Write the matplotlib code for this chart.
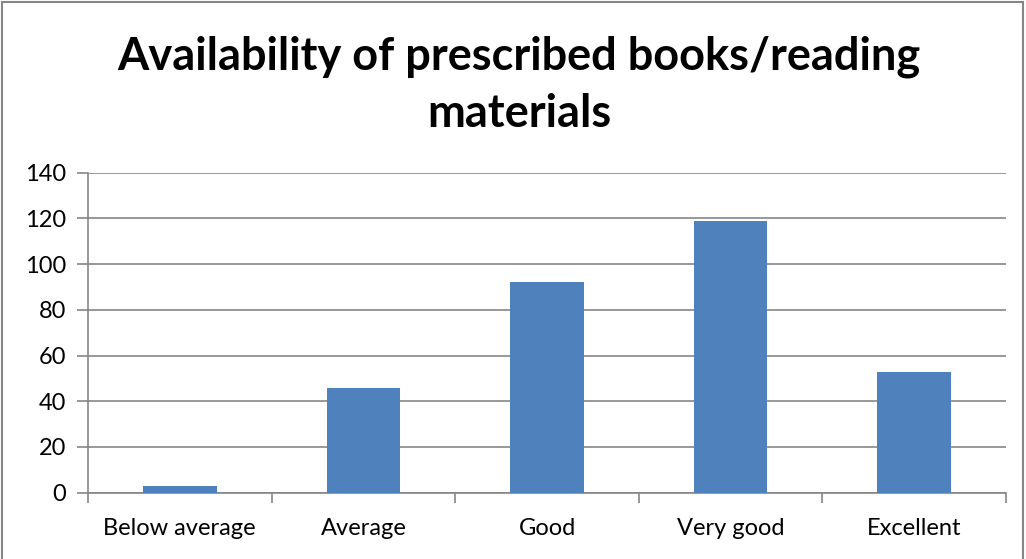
import matplotlib
matplotlib.use("Agg")
import matplotlib.pyplot as plt
from matplotlib.patches import Rectangle
import numpy as np

categories = ["Below average", "Average", "Good", "Very good", "Excellent"]
values = [3, 46, 92, 119, 53]
yticks = [0, 20, 40, 60, 80, 100, 120, 140]
title = "Availability of prescribed books/reading\nmaterials"

plt.rcParams['font.family'] = ['Lato', 'DejaVu Sans']

fig = plt.figure(figsize=(10.26, 5.59), dpi=100)
ax = fig.add_axes([88/1026, (559-492.7)/559, (1006-88)/1026, (492.7-172.7)/559])

x = np.arange(len(categories))
ax.bar(x, values, width=0.4, color="#4F81BD", zorder=3)
ax.set_xlim(-0.5, len(categories) - 0.5)
ax.set_ylim(0, 140)
ax.set_yticks(yticks)
ax.set_yticklabels([str(v) for v in yticks], fontsize=17)
ax.set_xticks(x)
ax.set_xticklabels(categories, fontsize=17)
ax.tick_params(axis='x', length=0, pad=18)
ax.set_xticks(np.arange(-0.5, len(categories), 1), minor=True)
ax.tick_params(axis='x', which='minor', length=7, color="#868686", width=1.2)
ax.tick_params(axis='y', length=8, color="#868686", width=1.2, pad=8)
ax.grid(axis='y', color="#868686", linewidth=1.2, zorder=0)
for s in ["top", "right"]:
    ax.spines[s].set_visible(False)
for s in ["left", "bottom"]:
    ax.spines[s].set_color("#868686")
    ax.spines[s].set_linewidth(1.2)

fig.text(0.506, 0.848, title, ha='center', va='center', fontsize=32.5,
         fontweight='bold', linespacing=1.45)

fig.patches.append(Rectangle((2/1026, -0.05), 1021/1026, 1.0 - 2/559 + 0.05,
                             transform=fig.transFigure, fill=False,
                             edgecolor="#868686", linewidth=1.5))

fig.savefig("out.png", dpi=100)
